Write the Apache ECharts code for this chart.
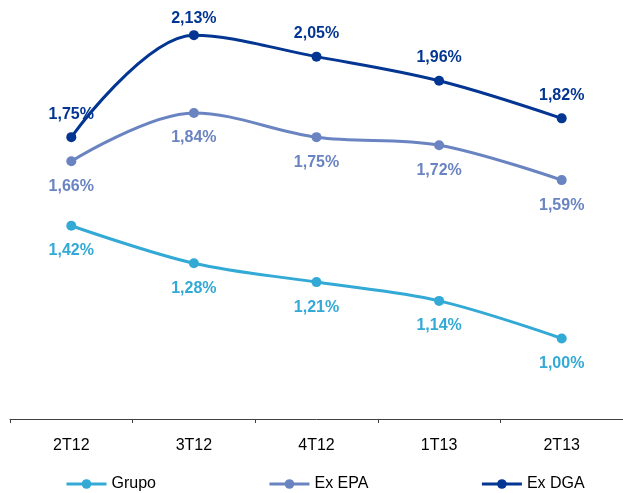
<!DOCTYPE html>
<html>
<head>
<meta charset="utf-8">
<script src="https://cdn.jsdelivr.net/npm/echarts@6.0.0/dist/echarts.min.js"></script>
<style>
  html, body { margin: 0; padding: 0; background: #fff; }
  #chart { width: 623px; height: 493px; }
</style>
</head>
<body>
<div id="chart"></div>
<script>
// quarters on the axis
const quarters = ['2T12', '3T12', '4T12', '1T13', '2T13'];

// ratios in %
const grupo = [1.42, 1.28, 1.21, 1.14, 1.00];
const exEpa = [1.66, 1.84, 1.75, 1.72, 1.59];
const exDga = [1.75, 2.13, 2.05, 1.96, 1.82];

const fontFamily = '"Liberation Sans", Arial, sans-serif';
const colors = { grupo: '#33a9d6', exEpa: '#6a84c1', exDga: '#033593' };

const chart = echarts.init(document.getElementById('chart'));

const fmt = (p) => p.value.toFixed(2).replace('.', ',') + '%';

const makeSeries = (name, values, color, labelPos, dist) => ({
  name,
  type: 'line',
  data: values,
  smooth: 0.35,
  symbol: 'circle',
  symbolSize: 10,
  lineStyle: { width: 3, color },
  itemStyle: { color },
  label: {
    show: true,
    position: labelPos,
    distance: dist,
    formatter: fmt,
    color,
    fontFamily,
    fontSize: 16,
    fontWeight: 'bold',
  },
  emphasis: { disabled: true },
});

const dgaSeries = makeSeries('Ex DGA', exDga, colors.exDga, 'top', 10);
// the peak label sits a little closer to its point
dgaSeries.data = exDga.map((v, i) => (i === 1 ? { value: v, label: { distance: 4 } } : v));

chart.setOption({
  animation: false,
  grid: { left: 10, right: -4, top: 11, bottom: 74 },
  xAxis: {
    type: 'category',
    data: quarters,
    boundaryGap: true,
    axisLine: { lineStyle: { color: '#404040', width: 1 } },
    axisTick: { show: true, length: 4, lineStyle: { color: '#404040' } },
    axisLabel: { color: '#000', fontFamily, fontSize: 16, margin: 19 },
    splitLine: { show: false },
  },
  yAxis: {
    type: 'value',
    min: 0.7,
    max: 2.22,
    show: false,
  },
  legend: {
    left: 65,
    top: 476,
    padding: 0,
    itemWidth: 40,
    itemHeight: 12,
    itemGap: 112,
    lineStyle: { width: 3 },
    textStyle: { color: '#000', fontFamily, fontSize: 16 },
    data: ['Grupo', 'Ex EPA', 'Ex DGA'],
  },
  series: [
    makeSeries('Grupo', grupo, colors.grupo, 'bottom', 12),
    makeSeries('Ex EPA', exEpa, colors.exEpa, 'bottom', 12),
    dgaSeries,
  ],
});
</script>
</body>
</html>
